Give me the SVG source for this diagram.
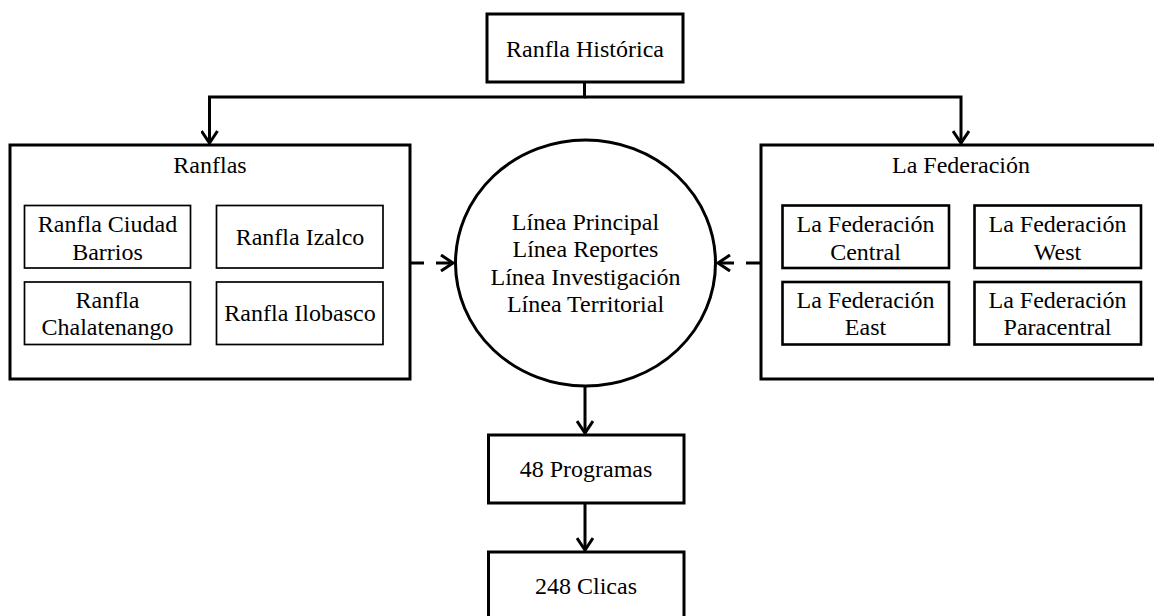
<svg xmlns="http://www.w3.org/2000/svg" width="1154" height="616" viewBox="0 0 1154 616">
<style>
text{font-family:"Liberation Serif","Times New Roman",serif;font-size:24px;fill:#000;text-anchor:middle}
.box{fill:#fff;stroke:#000;stroke-width:3}
.inner{fill:#fff;stroke:#000;stroke-width:1.7}
.inner2{fill:#fff;stroke:#000;stroke-width:2.6}
.conn{fill:none;stroke:#000;stroke-width:3}
.dash{stroke-dasharray:14 12}
</style>
<defs>
<marker id="arr" viewBox="0 0 16 18" refX="13" refY="9" markerWidth="16" markerHeight="18" markerUnits="userSpaceOnUse" orient="auto">
<path d="M1,1 L13,9 L1,17" fill="none" stroke="#000" stroke-width="3"/>
</marker>
</defs>
<g id="connectors">
<path class="conn" d="M584.5,82 V97 H209.5 V143" marker-end="url(#arr)"/>
<path class="conn" d="M584.5,97 H961 V143" marker-end="url(#arr)"/>
<path class="conn dash" d="M410,263 H453" marker-end="url(#arr)"/>
<path class="conn dash" d="M760,263 H718" marker-end="url(#arr)"/>
<path class="conn" d="M585,386 V433" marker-end="url(#arr)"/>
<path class="conn" d="M585,503 V550" marker-end="url(#arr)"/>
</g>
<g id="ranfla-historica">
<rect class="box" x="487" y="14" width="196" height="68"/>
<text x="585" y="56.5">Ranfla Histórica</text>
</g>
<g id="ranflas">
<rect class="box" x="10" y="145" width="400" height="234"/>
<text x="210" y="173">Ranflas</text>
</g>
<g id="ranfla-ciudad-barrios">
<rect class="inner" x="24.5" y="205.5" width="166" height="62.5"/>
<text x="107.5" y="232">Ranfla Ciudad</text>
<text x="107.5" y="259.5">Barrios</text>
</g>
<g id="ranfla-izalco">
<rect class="inner" x="216.5" y="205.5" width="166.5" height="62.5"/>
<text x="300" y="245">Ranfla Izalco</text>
</g>
<g id="ranfla-chalatenango">
<rect class="inner" x="24.5" y="282" width="166" height="62.5"/>
<text x="107.5" y="308">Ranfla</text>
<text x="107.5" y="335">Chalatenango</text>
</g>
<g id="ranfla-ilobasco">
<rect class="inner" x="216.5" y="282" width="166.5" height="62.5"/>
<text x="300" y="320.5">Ranfla Ilobasco</text>
</g>
<g id="lineas">
<ellipse class="box" cx="585.5" cy="263" rx="130" ry="123"/>
<text x="585.5" y="230">Línea Principal</text>
<text x="585.5" y="257">Línea Reportes</text>
<text x="585.5" y="284.5">Línea Investigación</text>
<text x="585.5" y="312">Línea Territorial</text>
</g>
<g id="la-federacion">
<rect class="box" x="761" y="145" width="400" height="234"/>
<text x="961" y="173">La Federación</text>
</g>
<g id="fed-central">
<rect class="inner2" x="782.5" y="205.5" width="166.5" height="62.5"/>
<text x="865.5" y="232">La Federación</text>
<text x="865.5" y="259.5">Central</text>
</g>
<g id="fed-west">
<rect class="inner2" x="974.5" y="205.5" width="166.5" height="62.5"/>
<text x="1057.5" y="232">La Federación</text>
<text x="1057.5" y="259.5">West</text>
</g>
<g id="fed-east">
<rect class="inner2" x="782.5" y="282" width="166.5" height="62.5"/>
<text x="865.5" y="308">La Federación</text>
<text x="865.5" y="335">East</text>
</g>
<g id="fed-paracentral">
<rect class="inner2" x="974.5" y="282" width="166.5" height="62.5"/>
<text x="1057.5" y="308">La Federación</text>
<text x="1057.5" y="335">Paracentral</text>
</g>
<g id="programas">
<rect class="box" x="488.5" y="435" width="195.5" height="68"/>
<text x="586" y="476.5">48 Programas</text>
</g>
<g id="clicas">
<rect class="box" x="488.5" y="552" width="195.5" height="70"/>
<text x="586" y="593.5">248 Clicas</text>
</g>
</svg>
